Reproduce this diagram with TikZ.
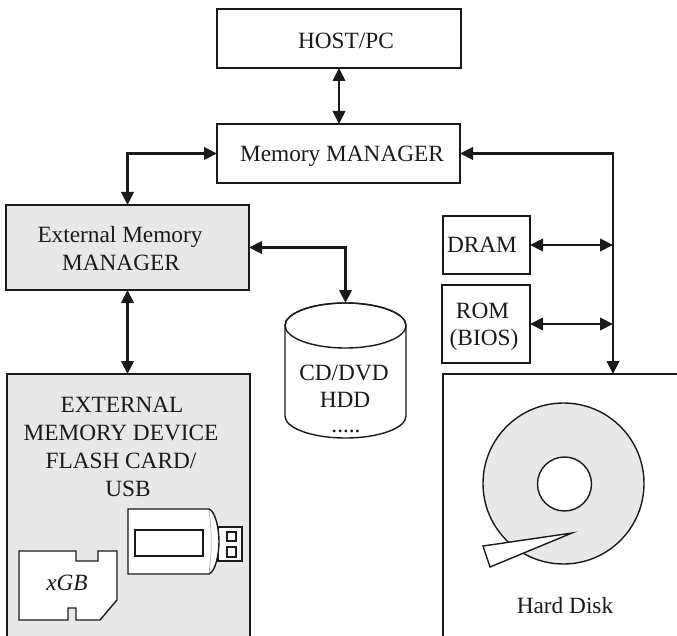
\documentclass[tikz,border=0pt]{standalone}
\usepackage{fontspec}
\setmainfont{Liberation Serif}
\usetikzlibrary{arrows.meta}
\definecolor{panel}{HTML}{E8E8E8}
\definecolor{ink}{HTML}{1A1A1A}
\begin{document}
\begin{tikzpicture}[x=1pt,y=-1pt,
  every node/.style={inner sep=0pt, outer sep=0pt},
  txt/.style={font=\fontsize{23.3}{28}\selectfont, text=ink, anchor=base},
  itxt/.style={font=\fontsize{23.3}{28}\selectfont\itshape, text=ink, anchor=base},
  blk/.style={draw=ink, line width=1.6pt, rectangle},
  anchorbox/.style={rectangle},
  link/.style={draw=ink, line width=2.2pt,
    {Triangle[length=13pt,width=12.5pt]}-{Triangle[length=13pt,width=12.5pt]}},
  outline/.style={draw=ink, line width=1.4pt},
]
\useasboundingbox (0,0) rectangle (677,636);
\clip (0,0) rectangle (677,636);

% --- boxes ---
\node[blk, minimum width=244pt, minimum height=59pt] (host) at (339,38.5) {};
\node[blk, minimum width=243pt, minimum height=59pt] (mm) at (338.5,153.5) {};
\node[blk, fill=panel, minimum width=243pt, minimum height=85pt] (emm) at (127.5,247.5) {};
\node[blk, fill=panel, minimum width=243pt, minimum height=326pt] (emd) at (128.5,537) {};
\node[blk, minimum width=87pt, minimum height=58pt] (dram) at (486.5,245) {};
\node[blk, minimum width=88pt, minimum height=78pt] (rom) at (486,324) {};
\node[blk, minimum width=277pt, minimum height=326pt] (hd) at (581.5,537) {};

% --- labels ---
\node[txt] (hostlbl) at (346,48.3) {HOST/PC};
\node[txt] (mmlbl) at (342,161.7) {Memory MANAGER};
\node[txt] (emmlbl1) at (120,243) {External Memory};
\node[txt] (emmlbl2) at (121,271) {MANAGER};
\node[txt] (emdlbl1) at (122,412) {EXTERNAL};
\node[txt] (emdlbl2) at (121,440) {MEMORY DEVICE};
\node[txt] (emdlbl3) at (121,468) {FLASH CARD/};
\node[txt] (emdlbl4) at (128,496) {USB};
\node[txt] (dramlbl) at (482,253) {DRAM};
\node[txt] (romlbl1) at (482.5,318) {ROM};
\node[txt] (romlbl2) at (484,345) {(BIOS)};

% --- optical / disk drive cylinder ---
\node[anchorbox, minimum width=121pt, minimum height=135pt] (cyl) at (345.5,370.5) {};
\filldraw[outline, fill=white] (285,325.5) -- (285,416)
  arc[start angle=180, end angle=360, x radius=60.5pt, y radius=22pt]
  -- (406,325.5)
  arc[start angle=0, end angle=180, x radius=60.5pt, y radius=22.5pt] -- cycle;
\draw[outline] (345.5,325.5) ellipse [x radius=60.5pt, y radius=22.5pt];
\node[txt] (cyllbl1) at (344,380) {CD/DVD};
\node[txt] (cyllbl2) at (345,407) {HDD};
\node[txt] (cyllbl3) at (346,432) {.....};

% --- connectors ---
\coordinate (bus) at (613,153.5);
\draw[link] (host.south) -- (host.south |- mm.north);
\draw[link] (mm.west) -| (emm.north);
\draw[link] (mm.east) -- (bus) -- (bus |- hd.north);
\draw[link] (emm.east) -| (cyl.north);
\draw[link] (emm.south) -- (emm.south |- emd.north);
\draw[link] (dram.east) -- (dram.east -| bus);
\draw[link] (rom.east) -- (rom.east -| bus);

% --- SD card ---
\filldraw[outline, fill=white] (19,551) -- (76,551) -- (76,561) -- (98,561) -- (98,551)
  -- (117,551) -- (117,600) -- (100,620) -- (76,620) -- (76,608) -- (68,608)
  -- (68,620) -- (19,620) -- cycle;
\node[itxt] (sdlbl) at (67,590) {xGB};

% --- USB stick ---
\filldraw[outline, fill=white] (218,527) rectangle (242,561);
\draw[outline, line width=1.2pt] (227,532) rectangle (236,541);
\draw[outline, line width=1.2pt] (227,547) rectangle (236,557);
\filldraw[outline, fill=white] (128,509) -- (209,509)
  .. controls (216,512) and (219,530) .. (219,541.5)
  .. controls (219,553) and (216,571) .. (209,574) -- (128,574) -- cycle;
\draw[ink!45, line width=0.5pt] (209,511) .. controls (212,530) and (212,553) .. (209,572);
\draw[outline] (135,530) rectangle (203,556);

% --- hard disk platter and head ---
\filldraw[outline, fill=panel] (563.5,483.5) circle[radius=80.5pt];
\filldraw[outline, fill=white] (564.5,484) circle[radius=27pt];
\filldraw[outline, fill=white] (572,533) -- (483,546) -- (490,567) -- cycle;
\node[txt] (hdlbl) at (565,613) {Hard Disk};
\end{tikzpicture}
\end{document}
